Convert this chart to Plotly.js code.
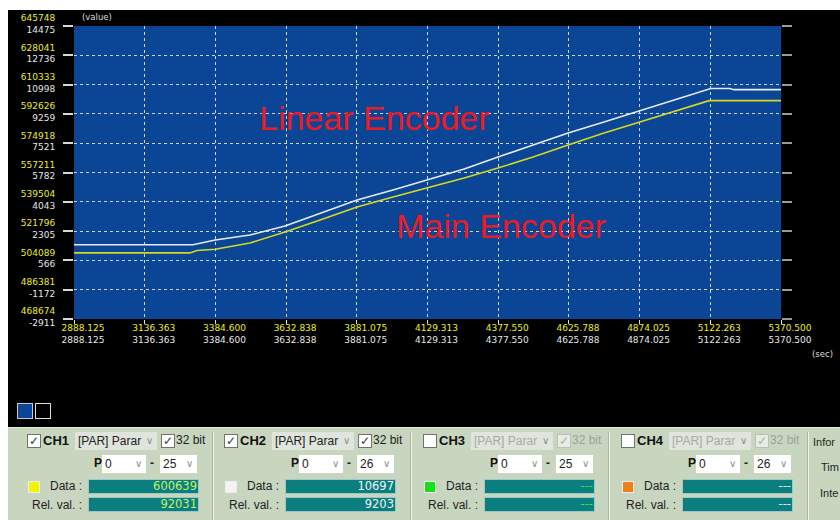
<!DOCTYPE html>
<html>
<head>
<meta charset="utf-8">
<script src="https://cdn.plot.ly/plotly-3.0.1.min.js"></script>
<style>
  html, body { margin: 0; padding: 0; }
  body { width: 840px; height: 520px; position: relative; overflow: hidden; background: #ffffff;
         font-family: "Liberation Sans", Arial, sans-serif; }
  #scope { position: absolute; left: 8px; top: 10px; width: 832px; height: 418px; background: #000; }
  #chart { position: absolute; left: 0; top: 0; width: 840px; height: 428px; }
  .sq { position: absolute; top: 403px; width: 14px; height: 14px; border: 1px solid #c8c8c8; }
  #panel { position: absolute; left: 8px; top: 427px; width: 832px; height: 93px; background: #c8d6c0;
           border-top: 1px solid #e4ece0; }
  .abs { position: absolute; white-space: nowrap; }
  .cb { position: absolute; width: 12px; height: 12px; background: #fff; border: 1px solid #6c746c;
        font-size: 12px; line-height: 12px; text-align: center; color: #3a3a3a; }
  .cb.dis { background: #e8ece6; border-color: #b8c0b8; color: #a8b0a8; }
  .dd { position: absolute; height: 18px; box-sizing: border-box; font-size: 12px; line-height: 18px;
        padding-left: 3px; color: #222; background: #fff; }
  .dd .chev { position: absolute; right: 4px; top: 0; color: #8a8f8a; font-size: 10px; }
  .dd.gray { background: #dfe5dc; }
  .dd.dis { background: #dfe5dc; color: #a4aaa4; }
  .box { position: absolute; width: 111px; height: 15px; box-sizing: border-box; background: #0b7f80;
         border: 1px solid #9fc8c4; font-family: "DejaVu Sans", sans-serif; font-size: 11.5px;
         line-height: 13px; text-align: right; padding-right: 1px; }
  .lbl { position: absolute; font-size: 12px; color: #1e1e1e; text-align: right; width: 60px; }
  .sep { position: absolute; top: 432px; width: 1px; height: 88px; background: #a9b7a2;
         border-right: 1px solid #eef3ec; }
</style>
</head>
<body>
<div id="scope"></div>
<div id="chart"></div>
<div class="sq" style="left:17px; background:#0a4596;"></div>
<div class="sq" style="left:35px; background:#000; border-color:#e0e0e0;"></div>
<div id="panel"></div>
<div id="controls"></div>
<script>
// Sampling time axis (sec)
const xTickVals = [2888.125, 3136.363, 3384.600, 3632.838, 3881.075, 4129.313, 4377.550, 4625.788, 4874.025, 5122.263, 5370.500];
const xTickText = ["2888.125", "3136.363", "3384.600", "3632.838", "3881.075", "4129.313", "4377.550", "4625.788", "4874.025", "5122.263", "5370.500"];

// CH1 (main encoder) scale ticks and CH2 (linear encoder) scale ticks
const ch1Ticks = [468674, 486381, 504089, 521796, 539504, 557211, 574918, 592626, 610333, 628041, 645748];
const ch2Ticks = [-2911, -1172, 566, 2305, 4043, 5782, 7521, 9259, 10998, 12736, 14475];

// CH1 – Main Encoder trace
const mainTime  = [2888.125, 3295, 3320, 3384, 3506, 3629, 3752, 3882, 4008, 4131, 4258, 4377, 4500, 4623, 4749, 4875, 4998, 5118, 5370.5];
const mainValue = [508608, 508608, 510071, 510797, 514604, 521252, 528504, 536361, 542404, 547843, 553887, 559930, 566578, 573830, 581083, 587730, 594378, 600639, 600639];

// CH2 – Linear Encoder trace
const linTime  = [2888.125, 3306, 3384, 3506, 3629, 3752, 3882, 4008, 4131, 4258, 4377, 4500, 4623, 4749, 4875, 4998, 5124, 5191, 5205, 5370.5];
const linValue = [1494, 1494, 1776, 2073, 2607, 3378, 4150, 4743, 5337, 5989, 6701, 7414, 8126, 8778, 9431, 10084, 10766, 10766, 10697, 10697];

const YEL = "#ecec2a";
const WHT = "#e6e6e6";

const yTickText = ch1Ticks.map((v, i) =>
  '<span style="color:' + YEL + '">' + v + '</span><br>' + ch2Ticks[i]);
const xTickLabels = xTickText.map(t =>
  '<span style="color:' + YEL + '">' + t + '</span><br>' + t);

const traces = [
  { x: linTime, y: linValue, yaxis: "y2", type: "scatter", mode: "lines",
    line: { color: "#e8eafc", width: 1.6 }, hoverinfo: "skip", name: "CH2" },
  { x: mainTime, y: mainValue, yaxis: "y", type: "scatter", mode: "lines",
    line: { color: "#d8d820", width: 1.6 }, hoverinfo: "skip", name: "CH1" }
];

const gridStyle = { showgrid: true, gridcolor: "rgba(235,240,250,0.85)", gridwidth: 1, griddash: "3px,3px" };
const redFont = { family: "Liberation Sans, Arial, sans-serif", size: 34, color: "#ec1a22" };

const layout = {
  width: 840, height: 428,
  margin: { l: 74, r: 59, t: 26, b: 109, pad: 0 },
  paper_bgcolor: "rgba(0,0,0,0)",
  plot_bgcolor: "#0a4596",
  showlegend: false,
  font: { family: "DejaVu Sans, sans-serif", size: 9, color: WHT },
  xaxis: Object.assign({
    range: [xTickVals[0], xTickVals[xTickVals.length - 1]],
    tickmode: "array", tickvals: xTickVals, ticktext: xTickLabels,
    ticks: "outside", ticklen: 4, tickcolor: "#e0e0e0", tickwidth: 1,
    ticklabelshift: 9, ticklabelstandoff: -4,
    zeroline: false, showline: false, automargin: false, fixedrange: true
  }, gridStyle),
  yaxis: Object.assign({
    range: [ch1Ticks[0], ch1Ticks[ch1Ticks.length - 1]],
    tickmode: "array", tickvals: ch1Ticks, ticktext: yTickText,
    ticks: "outside", ticklen: 10, tickcolor: "#d8d8d8", tickwidth: 2,
    ticklabelstandoff: 6, ticklabelshift: -2,
    zeroline: false, showline: false, automargin: false, fixedrange: true
  }, gridStyle),
  yaxis2: {
    overlaying: "y", side: "right",
    range: [ch2Ticks[0], ch2Ticks[ch2Ticks.length - 1]],
    tickmode: "array", tickvals: ch2Ticks, showticklabels: false,
    ticks: "outside", ticklen: 10, tickcolor: "#9a9a9a", tickwidth: 2,
    showgrid: false, zeroline: false, showline: false, automargin: false, fixedrange: true
  },
  annotations: [
    { xref: "paper", yref: "paper", x: 0.4257, y: 0.686, xanchor: "center", yanchor: "middle",
      text: "Linear Encoder", showarrow: false, font: redFont },
    { xref: "paper", yref: "paper", x: 0.604, y: 0.3174, xanchor: "center", yanchor: "middle",
      text: "Main Encoder", showarrow: false, font: redFont },
    { xref: "paper", yref: "paper", x: 0.0085, y: 1.031, xanchor: "left", yanchor: "middle",
      text: "(value)", showarrow: false, font: { size: 8.5, color: "#dcdcdc" } },
    { xref: "paper", yref: "paper", x: 1.058, y: -0.119, xanchor: "center", yanchor: "middle",
      text: "(sec)", showarrow: false, font: { size: 8.5, color: "#dcdcdc" } }
  ]
};

Plotly.newPlot("chart", traces, layout, { staticPlot: true, displayModeBar: false });

// Channel control strip below the scope
const channels = [
  { name: "CH1", on: true,  dis: false, p2: "25", color: "#f4f400", data: "600639", rel: "92031", txt: "#c8f060" },
  { name: "CH2", on: true,  dis: false, p2: "26", color: "#f4f4f4", data: "10697",  rel: "9203",  txt: "#f2f2f2" },
  { name: "CH3", on: false, dis: true,  p2: "25", color: "#18e018", data: "---",    rel: "---",   txt: "#40e040" },
  { name: "CH4", on: false, dis: true,  p2: "26", color: "#f08018", data: "---",    rel: "---",   txt: "#e8f0f0" }
];
const offsets = [0, 197, 396, 594];

let html = "";
channels.forEach((c, i) => {
  const d = offsets[i];
  html += '<div class="cb" style="left:' + (27 + d) + 'px; top:434px;">' + (c.on ? "✓" : "") + '</div>';
  html += '<div class="abs" style="left:' + (43 + d) + 'px; top:433px; font-weight:bold; font-size:13px; color:#111;">' + c.name + '</div>';
  html += '<div class="dd ' + (c.dis ? "dis" : "gray") + '" style="left:' + (75 + d) + 'px; top:432px; width:82px;">[PAR] Parar<span class="chev">&#8744;</span></div>';
  html += '<div class="cb' + (c.dis ? " dis" : "") + '" style="left:' + (161 + d) + 'px; top:434px;">✓</div>';
  html += '<div class="abs" style="left:' + (176 + d) + 'px; top:433px; font-size:12px; color:' + (c.dis ? "#9aa29a" : "#1e1e1e") + ';">32 bit</div>';
  html += '<div class="abs" style="left:' + (94 + d) + 'px; top:456px; font-weight:bold; font-size:12px; color:#111;">P</div>';
  html += '<div class="dd" style="left:' + (102 + d) + 'px; top:455px; width:44px;">0<span class="chev">&#8744;</span></div>';
  html += '<div class="abs" style="left:' + (150 + d) + 'px; top:456px; font-size:12px; font-weight:bold; color:#222;">-</div>';
  html += '<div class="dd" style="left:' + (160 + d) + 'px; top:455px; width:37px;">' + c.p2 + '<span class="chev">&#8744;</span></div>';
  html += '<div class="abs" style="left:' + (28 + d) + 'px; top:481px; width:10px; height:10px; background:' + c.color + '; border:1px solid #e8efe6;"></div>';
  html += '<div class="lbl" style="left:' + (22 + d) + 'px; top:479px;">Data :</div>';
  html += '<div class="box" style="left:' + (88 + d) + 'px; top:479px; color:' + c.txt + ';">' + c.data + '</div>';
  html += '<div class="lbl" style="left:' + (22 + d) + 'px; top:498px;">Rel. val. :</div>';
  html += '<div class="box" style="left:' + (88 + d) + 'px; top:497px; color:' + c.txt + ';">' + c.rel + '</div>';
});
[212, 410, 608, 807].forEach(x => { html += '<div class="sep" style="left:' + x + 'px;"></div>'; });
html += '<div class="abs" style="left:813px; top:436px; font-size:11px; color:#1e1e1e;">Infor</div>';
html += '<div class="abs" style="left:821px; top:461px; font-size:11px; color:#1e1e1e;">Tim</div>';
html += '<div class="abs" style="left:820px; top:487px; font-size:11px; color:#1e1e1e;">Inte</div>';
document.getElementById("controls").innerHTML = html;
</script>
</body>
</html>
